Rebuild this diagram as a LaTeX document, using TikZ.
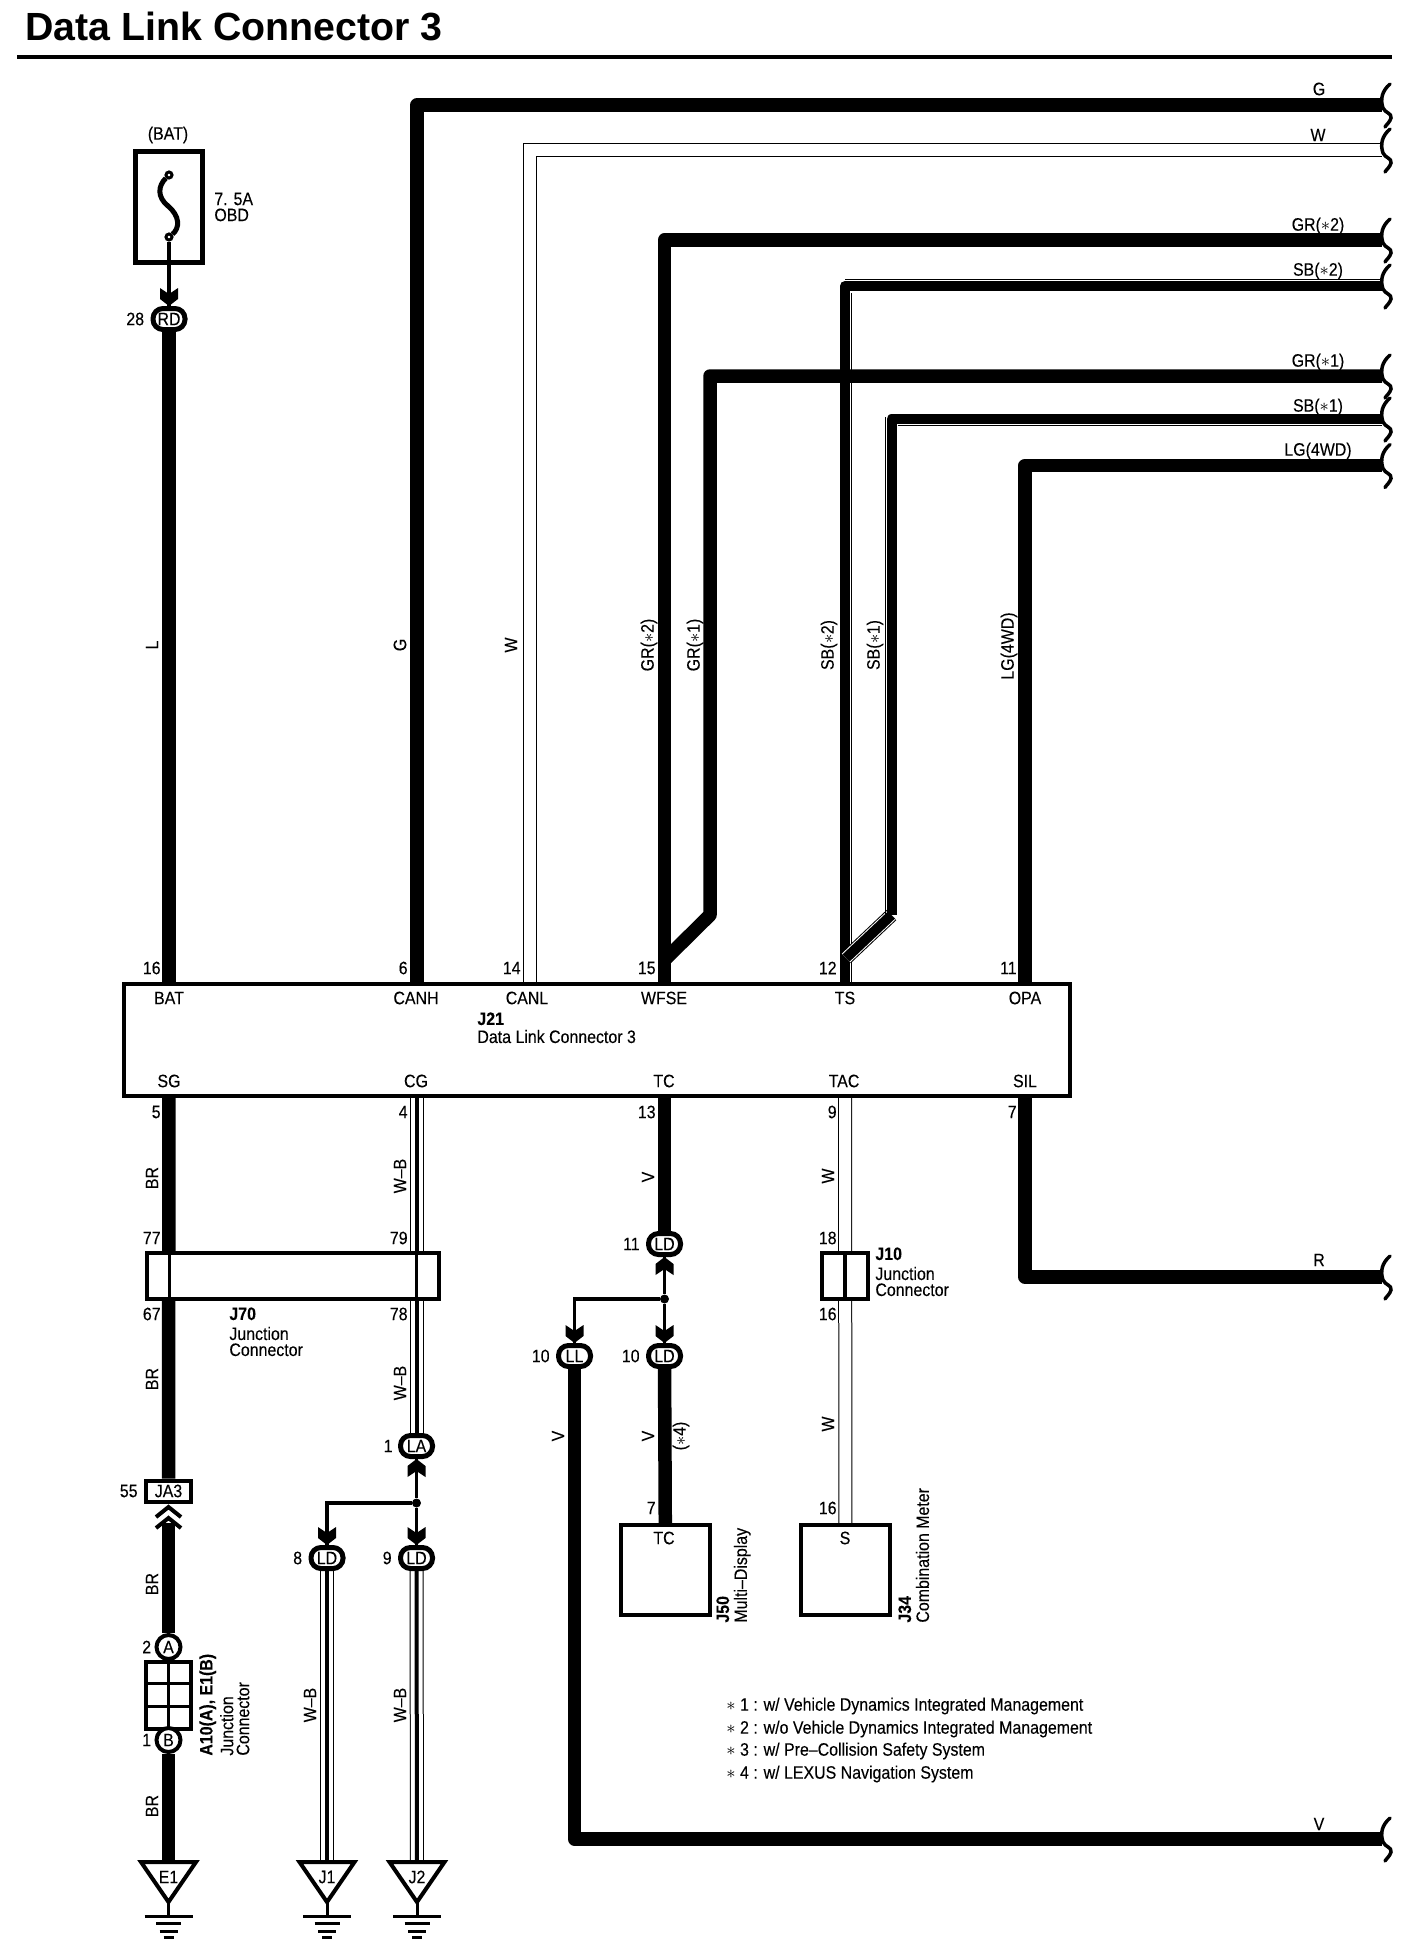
\documentclass[tikz,border=0pt]{standalone}
\usepackage{fontspec}
\setmainfont{Liberation Sans}[FakeStretch=.885, FakeBold=.15]
\newfontfamily\titlefont{Liberation Sans}
\usetikzlibrary{calc,positioning,backgrounds}
\tikzset{
	every node/.style={inner sep=0pt, font=\fontsize{9}{8}\selectfont},
	thickwire/.style={draw, line width=6.75pt, line join=round},
	sbwire/.style={draw, line width=5pt, line join=round},
	hairwire/.style={draw, line width=.5pt},
	stemwire/.style={draw, line width=1.75pt},
	whitewire/.style={draw, double, line width=.5pt, double distance=6pt},
	wbwire/.style={draw, line width=2pt,
		preaction={draw, double, line width=.5pt, double distance=6pt}},
	sbslant/.style={draw, line width=5pt,
		preaction={draw, double, line width=.5pt, double distance=6pt}},
	partbox/.style={draw, line width=2pt},
	oval/.style={draw, fill=white, line width=2.5pt, rounded corners=5pt,
		minimum width=16pt, minimum height=10.5pt},
	pincircle/.style={circle, draw, fill=white, line width=2pt, minimum size=12pt},
	fusepin/.style={circle, draw, fill=white, line width=1.5pt, minimum size=3pt},
	dot/.style={circle, fill=black, minimum size=4.5pt},
	pinnum/.style={anchor=east},
	vlabel/.style={rotate=90},
	partname/.style={align=left, anchor=north west},
	vpartname/.style={align=left, anchor=north west, rotate=90},
	breakline/.style={draw, line width=1.75pt, line cap=round},
	gndbar/.style={draw, line width=1.5pt},
}
\newcommand*\chevron[2]{\fill (#1) -- ++(-9,{-7*#2}) -- ++(0,{-11*#2}) -- ++(9,{6*#2}) -- ++(9,{-6*#2}) -- ++(0,{11*#2}) -- cycle;}
\newcommand*\wirebreak[1]{\draw[breakline] ($(#1)+(8,-21)$) .. controls ($(#1)+(0,-14)$) and ($(#1)+(-2,-6)$) .. ($(#1)+(1,3)$) .. controls ($(#1)+(3,8)$) and ($(#1)+(10,8)$) .. ($(#1)+(9,13)$) .. controls ($(#1)+(8,17)$) and ($(#1)+(4,20)$) .. ($(#1)+(3,22)$);}
\newcommand*\gnd[3]{
	\coordinate (#1Pos) at (#2);
	\draw[partbox, fill=white] ($(#1Pos)+(-27.5,-15)$) -- ($(#1Pos)+(27.5,-15)$) -- ($(#1Pos)+(0,25)$) -- cycle;
	\node (#1) at (#1Pos) {#3};
	\draw[gndbar] ($(#1Pos)+(0,25)$) -- ($(#1Pos)+(0,39)$);
	\foreach \ybar/\wbar in {39/24, 46/12.5, 54/9, 60/5}
		\draw[gndbar] ($(#1Pos)+(-\wbar,\ybar)$) -- ($(#1Pos)+(\wbar,\ybar)$);
}

\begin{document}
\begin{tikzpicture}[x=.5pt, y=-.5pt]
\useasboundingbox (0,0) rectangle (1408,1954);

% heading
\node[anchor=base west, font=\titlefont\bfseries\fontsize{19.65}{20}\selectfont] (title) at (25,40) {Data Link Connector 3};
\coordinate (ruleL) at (17,57);
\coordinate (ruleR) at (1392,57);
\draw[line width=2pt] (ruleL) -- (ruleR);

% pins on the connector
\coordinate (batTop) at (169,984);
\coordinate (canhTop) at (417,984);
\coordinate (canlTop) at (529.5,984);
\coordinate (wfseTop) at (664.5,984);
\coordinate (tsTop) at (845,984);
\coordinate (opaTop) at (1025,984);
\coordinate (sgBot) at (169,1096);
\coordinate (cgBot) at (416.5,1096);
\coordinate (tcBot) at (664.5,1096);
\coordinate (tacBot) at (845,1096);
\coordinate (silBot) at (1025,1096);

% free ends on the right
\coordinate (gEnd) at (1382,105);
\coordinate (wEnd) at (1382,150);
\coordinate (grTwoEnd) at (1382,240);
\coordinate (sbTwoEnd) at (1382,286);
\coordinate (grOneEnd) at (1382,376);
\coordinate (sbOneEnd) at (1382,419);
\coordinate (lgEnd) at (1382,465.5);
\coordinate (rEnd) at (1382,1277);
\coordinate (vEnd) at (1382,1839);

% fuse
\node[partbox, line width=2.5pt, minimum width=33.5pt, minimum height=55.5pt] (fuse) at (168.5,206.5) {};
\node (batSrc) at (168,135) {(BAT)};
\node[fusepin] (fuseA) at (169,175) {};
\node[fusepin] (fuseB) at (169,237) {};
\draw[line width=2.5pt] (fuseA) .. controls (158,186) and (157,197) .. (168,206) .. controls (180,216) and (180,228) .. (fuseB);
\node[anchor=west, align=left] (fuseTxt) at (214,207) {7. 5A\\OBD};
\node[oval] (rd) at (169,319) {RD};
\node[pinnum, left=3pt of rd] (nRd) {28};
\chevron{rd.north}{1}

% main connector
\node[partbox, fill=white, minimum width=473pt, minimum height=56pt] (jTwentyOne) at (597,1040) {};
\node (batPin) at (169,998) {BAT};
\node (canhPin) at (416,998) {CANH};
\node (canlPin) at (527,998) {CANL};
\node (wfsePin) at (664,998) {WFSE};
\node (tsPin) at (845,998) {TS};
\node (opaPin) at (1025,998) {OPA};
\node (sgPin) at (169,1081) {SG};
\node (cgPin) at (416,1081) {CG};
\node (tcPin) at (664,1081) {TC};
\node (tacPin) at (844,1081) {TAC};
\node (silPin) at (1025,1081) {SIL};
\node[partname] (jTwentyOneTxt) at (477,1012) {\textbf{J21}\\[1pt]Data Link Connector 3};

\node[pinnum] (nSixteen) at (161,968) {16};
\node[pinnum] (nSix) at (408,968) {6};
\node[pinnum] (nFourteen) at (521,968) {14};
\node[pinnum] (nFifteen) at (656,968) {15};
\node[pinnum] (nTwelve) at (837,968) {12};
\node[pinnum] (nEleven) at (1017,968) {11};
\node[pinnum] (nFive) at (161,1112) {5};
\node[pinnum] (nFour) at (408,1112) {4};
\node[pinnum] (nThirteen) at (656,1112) {13};
\node[pinnum] (nNine) at (837,1112) {9};
\node[pinnum] (nSeven) at (1017,1112) {7};

% labels along the risers
\node[vlabel] (lblL) at (152,645) {L};
\node[vlabel] (lblG) at (400,645) {G};
\node[vlabel] (lblW) at (511,645) {W};
\node[vlabel] (lblGrTwo) at (649,645) {GR($\ast$2)};
\node[vlabel] (lblGrOne) at (695,645) {GR($\ast$1)};
\node[vlabel] (lblSbTwo) at (829,645) {SB($\ast$2)};
\node[vlabel] (lblSbOne) at (875,645) {SB($\ast$1)};
\node[vlabel] (lblLg) at (1009,646) {LG(4WD)};

% labels at the right
\node (endG) at (1319,89) {G};
\node (endW) at (1318,135) {W};
\node (endGrTwo) at (1318,226) {GR($\ast$2)};
\node (endSbTwo) at (1318,271) {SB($\ast$2)};
\node (endGrOne) at (1318,362) {GR($\ast$1)};
\node (endSbOne) at (1318,407) {SB($\ast$1)};
\node (endLg) at (1318,451) {LG(4WD)};
\node (endR) at (1319,1260) {R};
\node (endV) at (1319,1824) {V};

% junction connectors
\node[partbox, fill=white, minimum width=146pt, minimum height=23pt] (jSeventy) at (293,1276) {};
\draw[line width=1.5pt] (jSeventy.north -| sgBot) -- (jSeventy.south -| sgBot);
\draw[line width=1.5pt] (jSeventy.north -| cgBot) -- (jSeventy.south -| cgBot);
\node[partname] (jSeventyTxt) at (229,1307) {\textbf{J70}\\[2pt]Junction\\Connector};
\node[pinnum] (nSeventySeven) at (161,1238) {77};
\node[pinnum] (nSeventyNine) at (408,1238) {79};
\node[pinnum] (nSixtySeven) at (161,1314) {67};
\node[pinnum] (nSeventyEight) at (408,1314) {78};

\node[partbox, fill=white, minimum width=23pt, minimum height=23pt] (jTen) at (845,1276) {};
\draw[line width=2pt] (jTen.north) -- (jTen.south);
\node[partname] (jTenTxt) at (875,1247) {\textbf{J10}\\[2pt]Junction\\Connector};
\node[pinnum] (nEighteen) at (837,1238) {18};
\node[pinnum] (nSixteenB) at (837,1314) {16};

% BR run to ground
\node[partbox, fill=white, minimum width=22.5pt, minimum height=10.5pt] (jaThree) at (168.5,1491) {JA3};
\node[pinnum, left=3pt of jaThree] (nJaThree) {55};
\coordinate (jaTip) at (168.5,1523);
\draw[line width=2pt] (156,1517) -- (168.5,1507) -- (181,1517);
\draw[line width=2pt] (156,1528) -- (168.5,1518) -- (181,1528);
\node[pincircle] (pinA) at (168.5,1647) {A};
\node[pinnum, left=1.5pt of pinA] (nPinA) {2};
\node[partbox, fill=white, minimum width=22.5pt, minimum height=33.5pt] (jctTen) at (168.5,1695) {};
\draw[line width=1.5pt] (jctTen.north) -- (jctTen.south);
\draw[line width=1.5pt] ($(jctTen.north west)!.34!(jctTen.south west)$) -- ($(jctTen.north east)!.34!(jctTen.south east)$);
\draw[line width=1.5pt] ($(jctTen.north west)!.66!(jctTen.south west)$) -- ($(jctTen.north east)!.66!(jctTen.south east)$);
\node[pincircle] (pinB) at (168.5,1740) {B};
\node[pinnum, left=1.5pt of pinB] (nPinB) {1};
\node[vpartname] (jctTenTxt) at (199,1756) {\textbf{A10(A), E1(B)}\\[1pt]Junction\\Connector};

\gnd{eOne}{168.5,1877}{E1}
\gnd{jOne}{327,1877}{J1}
\gnd{jTwo}{417,1877}{J2}

\node[vlabel] (lblBrA) at (152,1178) {BR};
\node[vlabel] (lblBrB) at (152,1379) {BR};
\node[vlabel] (lblBrC) at (152,1584) {BR};
\node[vlabel] (lblBrD) at (152,1806) {BR};

% W-B branch
\node[vlabel] (lblWbA) at (400,1176) {W--B};
\node[vlabel] (lblWbB) at (400,1383) {W--B};
\node[oval] (la) at (416.5,1446) {LA};
\node[pinnum, left=2.5pt of la] (nLa) {1};
\node[dot] (jctLa) at (416.5,1503) {};
\node[oval] (ldEight) at (327,1558) {LD};
\node[oval] (ldNine) at (416.5,1558) {LD};
\node[pinnum, left=3pt of ldEight] (nEight) {8};
\node[pinnum, left=3pt of ldNine] (nNineB) {9};
\chevron{la.south}{-1}
\chevron{ldEight.north}{1}
\chevron{ldNine.north}{1}
\node[vlabel] (lblWbC) at (310,1705) {W--B};
\node[vlabel] (lblWbD) at (400,1705) {W--B};

% V branch
\node[vlabel] (lblVa) at (648,1177) {V};
\node[oval] (ldEleven) at (664.5,1244) {LD};
\node[pinnum, left=3pt of ldEleven] (nElevenB) {11};
\node[dot] (jctLd) at (664.5,1299) {};
\node[oval] (ll) at (574.5,1356) {LL};
\node[oval] (ldTen) at (664.5,1356) {LD};
\node[pinnum, left=3pt of ll] (nTenA) {10};
\node[pinnum, left=3pt of ldTen] (nTenB) {10};
\chevron{ldEleven.south}{-1}
\chevron{ll.north}{1}
\chevron{ldTen.north}{1}
\node[vlabel] (lblVb) at (558,1436) {V};
\node[vlabel] (lblVc) at (648,1436) {V};
\node[vlabel] (lblStar) at (681,1436) {($\ast$4)};
\node[pinnum] (nSevenB) at (656,1508) {7};

% units
\node[partbox, fill=white, minimum width=44.5pt, minimum height=45pt] (multi) at (665.5,1570) {};
\node (multiTc) at (664,1538) {TC};
\node[vpartname] (multiTxt) at (716,1623) {\textbf{J50}\\[1pt]Multi--Display};
\node[vlabel] (lblWc) at (828,1176) {W};
\node[vlabel] (lblWd) at (828,1424) {W};
\node[pinnum] (nSixteenC) at (837,1508) {16};
\node[partbox, fill=white, minimum width=44.5pt, minimum height=45pt] (meter) at (845.5,1570) {};
\node (meterS) at (845,1538) {S};
\node[vpartname] (meterTxt) at (898,1623) {\textbf{J34}\\[1pt]Combination Meter};

% notes
\node[anchor=west] (noteOne) at (726,1706) {$\ast$ 1 : w/ Vehicle Dynamics Integrated Management};
\node[anchor=west] (noteTwo) at (726,1729) {$\ast$ 2 : w/o Vehicle Dynamics Integrated Management};
\node[anchor=west] (noteThree) at (726,1751) {$\ast$ 3 : w/ Pre--Collision Safety System};
\node[anchor=west] (noteFour) at (726,1774) {$\ast$ 4 : w/ LEXUS Navigation System};

% wires go behind the parts
\begin{pgfonlayer}{background}
	\draw[stemwire] (fuseB) -- (rd);
	\draw[thickwire] (rd) -- (batTop);
	\draw[thickwire] (canhTop) |- (gEnd);
	\draw[whitewire] (canlTop) |- (wEnd);
	\draw[thickwire] (wfseTop) |- (grTwoEnd);

	% SB runs: black core, one hair line beside it
	\draw[sbwire] (tsTop) |- (sbTwoEnd);
	\draw[hairwire] ($(tsTop)+(6.5,0)$) -- ($(tsTop |- sbTwoEnd)+(6.5,7)$);
	\draw[hairwire] ($(tsTop |- sbTwoEnd)+(0,-6.5)$) -- ($(sbTwoEnd)+(0,-6.5)$);
	\coordinate (sbOneJoin) at (846,958);
	\coordinate (sbOneBend) at (891.5,915);
	\draw[sbslant] (sbOneJoin) -- (sbOneBend);
	\draw[sbwire] (sbOneBend) |- (sbOneEnd);
	\draw[hairwire] ($(sbOneBend)+(-6.5,0)$) -- ($(sbOneBend |- sbOneEnd)+(-6.5,-2)$);
	\draw[hairwire] ($(sbOneBend |- sbOneEnd)+(6,6.5)$) -- ($(sbOneEnd)+(0,6.5)$);

	\coordinate (grOneJoin) at (664.5,960);
	\coordinate (grOneBend) at (710,915);
	\draw[thickwire] (grOneJoin) -- (grOneBend) |- (grOneEnd);
	\draw[thickwire] (opaTop) |- (lgEnd);

	\draw[thickwire] (sgBot) -- (jaThree);
	\draw[thickwire] (jaTip) -- (pinA);
	\draw[thickwire] (pinB) -- (eOne);
	\draw[wbwire] (cgBot) -- (la);
	\draw[stemwire] (la) -- (jctLa);
	\draw[stemwire] (jctLa) -- (ldNine);
	\draw[stemwire] (jctLa) -| (ldEight);
	\draw[wbwire] (ldEight) -- (jOne);
	\draw[wbwire] (ldNine) -- (jTwo);

	\draw[thickwire] (tcBot) -- (ldEleven);
	\draw[stemwire] (ldEleven) -- (jctLd);
	\draw[stemwire] (jctLd) -- (ldTen);
	\draw[stemwire] (jctLd) -| (ll);
	\draw[thickwire] (ldTen) -- (multi);
	\draw[thickwire] (ll) |- (vEnd);
	\draw[whitewire] (tacBot) -- (meter);
	\draw[thickwire] (silBot) |- (rEnd);
\end{pgfonlayer}

\wirebreak{gEnd}
\wirebreak{wEnd}
\wirebreak{grTwoEnd}
\wirebreak{sbTwoEnd}
\wirebreak{grOneEnd}
\wirebreak{sbOneEnd}
\wirebreak{lgEnd}
\wirebreak{rEnd}
\wirebreak{vEnd}
\end{tikzpicture}
\end{document}
